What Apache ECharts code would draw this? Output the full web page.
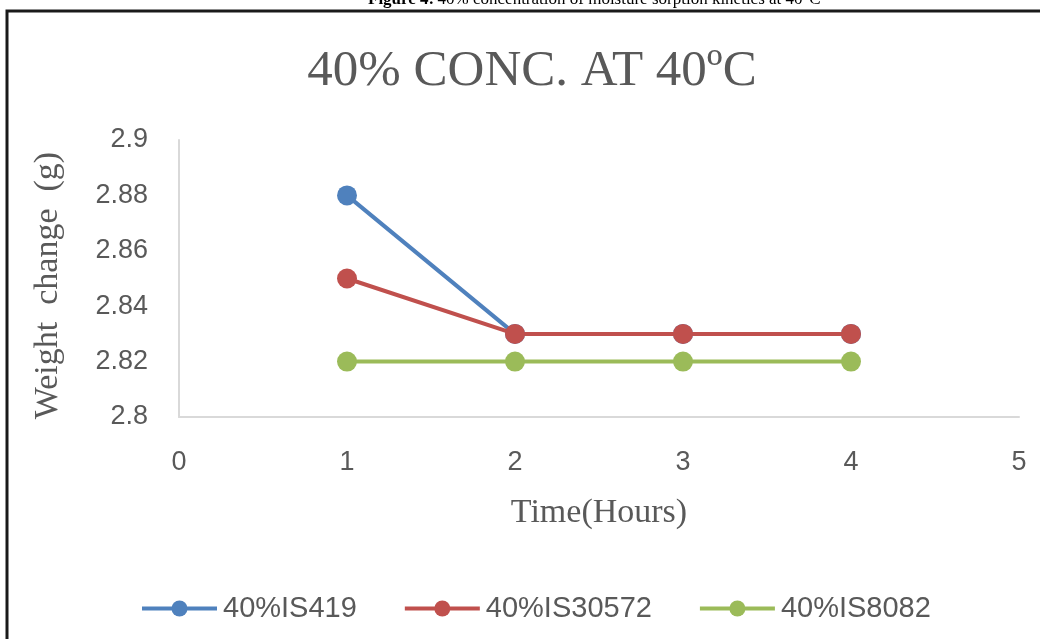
<!DOCTYPE html>
<html>
<head>
<meta charset="utf-8">
<style>
  html, body { margin: 0; padding: 0; background: #fff; }
  #chart { width: 1040px; height: 639px; }
</style>
<script src="https://cdn.jsdelivr.net/npm/echarts@6/dist/echarts.min.js"></script>
</head>
<body>
<div id="chart"></div>
<script>
// Sampling times (hours)
const hours = [1, 2, 3, 4];
// Sample weights (g) per sample over time
const seriesNames = ['40%IS419', '40%IS30572', '40%IS8082'];
const weightIS419 = [2.88, 2.83, 2.83, 2.83];
const weightIS30572 = [2.85, 2.83, 2.83, 2.83];
const weightIS8082 = [2.82, 2.82, 2.82, 2.82];
const seriesColors = ['#4F81BD', '#C0504D', '#9BBB59'];

const chartTitle = '40% CONC. AT 40\u00BAC';
const captionLead = 'Figure 4:';
const captionBody = '40% concentration of moisture sorption kinetics at 40\u00B0C';

const toPairs = vals => vals.map((v, i) => [hours[i], v]);
const allWeights = [weightIS419, weightIS30572, weightIS8082];

const chart = echarts.init(document.getElementById('chart'), null, { renderer: 'canvas' });

const tickFont = '"Liberation Sans", Arial, sans-serif';
const serifFont = '"Liberation Serif", "Times New Roman", serif';

chart.setOption({
  animation: false,
  backgroundColor: '#ffffff',
  title: {
    text: chartTitle,
    left: 527,
    textAlign: 'center',
    top: 41,
    textStyle: { fontFamily: serifFont, fontSize: 51, fontWeight: 'normal', color: '#595959' }
  },
  graphic: [
    {
      type: 'text',
      left: 368,
      top: -9,
      style: {
        rich: {
          b: { fontFamily: serifFont, fontSize: 17, fontWeight: 'bold', fill: '#000' },
          n: { fontFamily: serifFont, fontSize: 17, fill: '#000' }
        },
        text: '{b|' + captionLead + '} {n|' + captionBody + '}'
      }
    },
    {
      type: 'polyline',
      shape: { points: [[1040, 11], [7, 11], [7, 639]] },
      style: { stroke: '#1a1a1a', lineWidth: 3, fill: null }
    }
  ],
  grid: { left: 179, right: 21, top: 140, bottom: 222, containLabel: false },
  legend: {
    left: 140,
    top: 594,
    padding: 0,
    itemWidth: 75,
    itemHeight: 20,
    itemGap: 46,
    lineStyle: { width: 4 },
    textStyle: { fontFamily: tickFont, fontSize: 29, color: '#595959', padding: [0, 0, 0, 1] },
    data: seriesNames
  },
  xAxis: {
    type: 'value',
    min: 0,
    max: 5,
    interval: 1,
    name: 'Time(Hours)',
    nameLocation: 'middle',
    nameGap: 79,
    nameTextStyle: { fontFamily: serifFont, fontSize: 34, color: '#595959' },
    axisLine: { show: true, lineStyle: { color: '#d9d9d9', width: 2 } },
    axisTick: { show: false },
    splitLine: { show: false },
    axisLabel: { margin: 32, fontFamily: tickFont, fontSize: 27, color: '#595959' }
  },
  yAxis: {
    type: 'value',
    min: 2.8,
    max: 2.9,
    interval: 0.02,
    name: 'Weight  change  (g)',
    nameLocation: 'middle',
    nameGap: 114,
    nameRotate: 90,
    nameTextStyle: { fontFamily: serifFont, fontSize: 34, color: '#595959', padding: [0, 14, 0, 0] },
    axisLine: { show: true, lineStyle: { color: '#d9d9d9', width: 2 } },
    axisTick: { show: false },
    splitLine: { show: false },
    axisLabel: {
      margin: 31,
      fontFamily: tickFont,
      fontSize: 27,
      color: '#595959',
      formatter: v => String(+v.toFixed(2))
    }
  },
  series: seriesNames.map((name, i) => ({
    name,
    type: 'line',
    data: toPairs(allWeights[i]),
    color: seriesColors[i],
    symbol: 'circle',
    symbolSize: 20,
    lineStyle: { width: 4 },
    itemStyle: { color: seriesColors[i] },
    z: 2 + i
  }))
});
</script>
</body>
</html>
